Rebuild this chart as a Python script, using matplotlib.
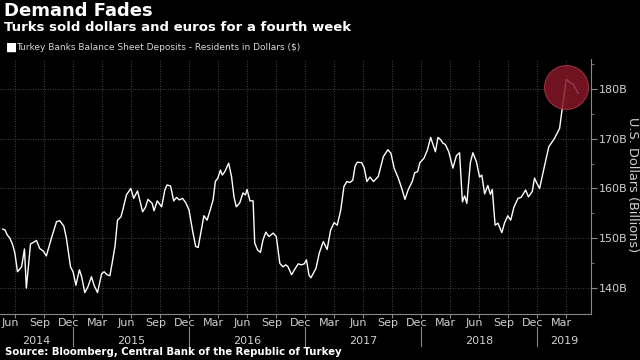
import numpy as np
import pandas as pd
import matplotlib
matplotlib.use("Agg")
import matplotlib.pyplot as plt
import matplotlib.transforms as mtransforms

# weekly readings (billions of USD)
dates = [
    "2014-04-24", "2014-05-01", "2014-05-08", "2014-05-16", "2014-05-25", "2014-06-01",
    "2014-06-09", "2014-06-22", "2014-07-01", "2014-07-07", "2014-07-20", "2014-07-28",
    "2014-08-08", "2014-08-18", "2014-08-29", "2014-09-08", "2014-09-24", "2014-10-10",
    "2014-10-20", "2014-11-02", "2014-11-10", "2014-11-23", "2014-12-01", "2014-12-10",
    "2014-12-21", "2014-12-28", "2015-01-07", "2015-01-17", "2015-01-28", "2015-02-05",
    "2015-02-16", "2015-03-01", "2015-03-09", "2015-03-18", "2015-03-27", "2015-04-03",
    "2015-04-12", "2015-04-20", "2015-05-01", "2015-05-08", "2015-05-18", "2015-06-01",
    "2015-06-10", "2015-06-22", "2015-06-29", "2015-07-08", "2015-07-17", "2015-07-25",
    "2015-08-07", "2015-08-13", "2015-08-23", "2015-09-06", "2015-09-16", "2015-09-23",
    "2015-10-04", "2015-10-14", "2015-10-23", "2015-10-31", "2015-11-11", "2015-11-21",
    "2015-12-01", "2015-12-12", "2015-12-22", "2015-12-30", "2016-01-09", "2016-01-17",
    "2016-01-27", "2016-02-06", "2016-02-15", "2016-02-22", "2016-03-01", "2016-03-09",
    "2016-03-15", "2016-03-23", "2016-04-04", "2016-04-13", "2016-04-21", "2016-04-28",
    "2016-05-09", "2016-05-19", "2016-05-27", "2016-06-01", "2016-06-10", "2016-06-20",
    "2016-06-25", "2016-07-04", "2016-07-13", "2016-07-21", "2016-07-30", "2016-08-09",
    "2016-08-22", "2016-09-01", "2016-09-12", "2016-09-22", "2016-10-01", "2016-10-08",
    "2016-10-19", "2016-10-29", "2016-11-09", "2016-11-19", "2016-11-28", "2016-12-05",
    "2016-12-13", "2016-12-19", "2017-01-04", "2017-01-14", "2017-01-27", "2017-02-08",
    "2017-02-19", "2017-03-02", "2017-03-12", "2017-03-23", "2017-04-02", "2017-04-11",
    "2017-04-21", "2017-04-30", "2017-05-07", "2017-05-14", "2017-05-28", "2017-06-05",
    "2017-06-13", "2017-06-23", "2017-07-04", "2017-07-19", "2017-08-04", "2017-08-18",
    "2017-08-28", "2017-09-07", "2017-09-20", "2017-10-01", "2017-10-11", "2017-10-21",
    "2017-11-03", "2017-11-11", "2017-11-20", "2017-11-27", "2017-12-10", "2017-12-21",
    "2017-12-31", "2018-01-15", "2018-01-23", "2018-02-01", "2018-02-08", "2018-02-15",
    "2018-02-26", "2018-03-11", "2018-03-22", "2018-04-01", "2018-04-10", "2018-04-17",
    "2018-04-24", "2018-05-05", "2018-05-13", "2018-05-24", "2018-06-03", "2018-06-10",
    "2018-06-19", "2018-06-29", "2018-07-07", "2018-07-13", "2018-07-22", "2018-07-31",
    "2018-08-12", "2018-08-21", "2018-08-31", "2018-09-09", "2018-09-19", "2018-10-02",
    "2018-10-12", "2018-10-26", "2018-11-04", "2018-11-16", "2018-11-23", "2018-11-30",
    "2018-12-09", "2018-12-24", "2019-01-07", "2019-01-25", "2019-02-10", "2019-02-19",
    "2019-03-03", "2019-03-16", "2019-03-24", "2019-04-01", "2019-04-09",
]
deposits = [
    151.8, 151.6, 150.6, 150.0, 148.6, 146.9,
    143.2, 144.2, 147.8, 139.9, 148.8, 149.1,
    149.5, 147.9, 147.4, 146.4, 150.0, 153.3,
    153.5, 152.4, 150.0, 144.2, 143.2, 140.5,
    143.6, 142.2, 139.0, 140.2, 142.2, 140.5,
    139.0, 142.8, 143.2, 142.6, 142.4, 144.9,
    148.3, 153.6, 154.3, 156.0, 158.7, 160.0,
    158.0, 159.5, 157.7, 155.3, 156.2, 157.8,
    157.0, 155.5, 157.5, 156.3, 159.7, 160.7,
    160.5, 157.5, 158.2, 157.7, 158.0, 157.1,
    155.7, 151.6, 148.3, 148.1, 151.6, 154.5,
    153.6, 155.7, 157.7, 161.4, 162.1, 163.7,
    162.7, 163.4, 165.1, 162.4, 158.2, 156.3,
    157.1, 159.1, 158.7, 159.8, 157.5, 157.5,
    149.0, 147.6, 147.1, 149.6, 151.2, 150.3,
    151.0, 150.3, 144.9, 144.2, 144.6, 144.2,
    142.6, 143.7, 144.8, 144.6, 144.8, 145.6,
    142.5, 142.0, 143.9, 146.9, 149.3, 147.7,
    151.6, 153.1, 152.6, 155.7, 160.4, 161.4,
    161.2, 161.7, 164.5, 165.3, 165.2, 164.1,
    161.4, 162.3, 161.4, 162.4, 166.4, 167.8,
    167.1, 164.1, 162.1, 160.0, 157.8, 159.7,
    161.4, 163.2, 163.4, 165.2, 166.1, 167.8,
    170.3, 167.4, 170.3, 169.8, 169.1, 168.9,
    167.4, 164.1, 166.6, 167.2, 157.3, 158.5,
    157.0, 165.2, 167.2, 165.4, 162.3, 162.7,
    158.9, 160.6, 158.8, 159.8, 152.6, 153.0,
    151.1, 153.1, 154.5, 153.6, 156.2, 158.0,
    158.2, 159.7, 158.3, 159.4, 162.1, 161.1,
    160.0, 164.4, 168.4, 170.1, 172.1, 176.5,
    182.0, 181.3, 181.1, 180.2, 179.2,
]

title = "Demand Fades"
subtitle = "Turks sold dollars and euros for a fourth week"
series_label = "Turkey Banks Balance Sheet Deposits - Residents in Dollars ($)"
source = "Source: Bloomberg, Central Bank of the Republic of Turkey"
y_label = "U.S. Dollars (Billions)"
y_ticks = [140, 150, 160, 170, 180]
highlight_date = "2019-03-01"
highlight_value = 180.5

x = pd.to_datetime(dates)
x_min, x_max = pd.Timestamp("2014-04-15"), pd.Timestamp("2019-05-19")

fig = plt.figure(figsize=(6.4, 3.6), dpi=100, facecolor="black")
ax = fig.add_axes([0.0, 0.128, 0.923, 0.708])
ax.set_facecolor("black")

ax.plot(x, deposits, color="white", lw=1.0, zorder=2)
ax.scatter([pd.Timestamp(highlight_date)], [highlight_value], s=1000, color="#861628",
           alpha=0.85, edgecolor="#a83448", linewidth=0.8, zorder=3)

ax.set_xlim(x_min, x_max)
ax.set_ylim(134.7, 186.1)

# quarterly grid + ticks
quarters = pd.date_range("2014-03-01", "2019-06-01", freq="QS-MAR")
quarters = [q for q in quarters if x_min <= q <= x_max]
ax.set_xticks(quarters)
ax.set_xticklabels([])
ax.tick_params(axis="x", length=3, color="#888888", width=0.8)
for q in quarters:
    ax.axvline(q, color="#5a5a5a", lw=0.6, ls=(0, (1, 2)), zorder=1)
for v in y_ticks:
    ax.axhline(v, color="#5a5a5a", lw=0.6, ls=(0, (1, 2)), zorder=1)

# month labels, a little left of their gridline
tr = mtransforms.blended_transform_factory(ax.transData, ax.transAxes)
for q in quarters:
    ax.text(q - pd.Timedelta(days=14), -0.015, q.strftime("%b"), transform=tr,
            ha="center", va="top", color="#d0d0d0", fontsize=8)

# year separators and year labels
seps = [pd.Timestamp(f"{y}-12-01") for y in range(2014, 2019)]
for s in seps:
    ax.plot([s, s], [-0.05, -0.125], transform=tr, color="#888888", lw=0.8, clip_on=False)
edges = [x_min] + seps + [x_max]
for i, yr in enumerate(range(2014, 2020)):
    mid = edges[i] + (edges[i + 1] - edges[i]) / 2
    ax.text(mid, -0.085, str(yr), transform=tr, ha="center", va="top",
            color="#d0d0d0", fontsize=8)

# y axis on the right
ax.yaxis.tick_right()
ax.set_yticks(y_ticks)
ax.set_yticklabels([f"{v}B" for v in y_ticks])
ax.set_yticks([145, 155, 165, 175, 185], minor=True)
ax.tick_params(axis="y", which="major", length=4, color="#888888", labelcolor="#d0d0d0",
               labelsize=8, pad=2)
ax.tick_params(axis="y", which="minor", length=2.5, color="#888888")

for side in ["top", "left"]:
    ax.spines[side].set_visible(False)
for side in ["bottom", "right"]:
    ax.spines[side].set_color("#888888")
    ax.spines[side].set_linewidth(0.8)

fig.text(0.989, 0.486, y_label, rotation=270, ha="center", va="center",
         color="#d0d0d0", fontsize=9.3)

fig.text(0.006, 0.995, title, color="white", fontsize=13, fontweight="bold", va="top")
fig.text(0.006, 0.942, subtitle, color="white", fontsize=9.5, fontweight="bold", va="top")
fig.text(0.009, 0.868, "\u25a0", color="white", fontsize=8.5, va="center")
fig.text(0.025, 0.868, series_label, color="#d8d8d8", fontsize=6.5, va="center")
fig.text(0.008, 0.022, source, color="white", fontsize=7.3, fontweight="bold", va="center")

fig.savefig("out.png", dpi=100, facecolor="black")
